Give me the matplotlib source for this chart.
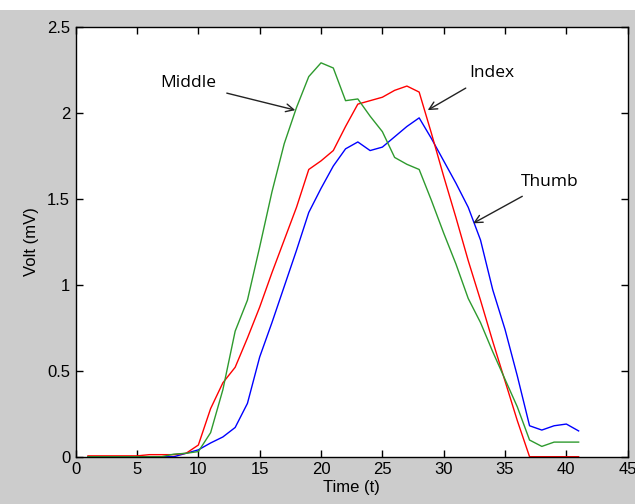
import matplotlib.pyplot as plt
from matplotlib.patches import Rectangle
import numpy as np

# time samples 1..41
t = list(range(1, 42))

thumb = [0.0, 0.0, 0.0, 0.0, 0.0, 0.0, 0.0, 0.0, 0.02, 0.04,
         0.08, 0.115, 0.17, 0.31, 0.58, 0.78, 0.99, 1.20, 1.42, 1.56,
         1.69, 1.79, 1.83, 1.78, 1.80, 1.86, 1.92, 1.97, 1.85, 1.72,
         1.59, 1.45, 1.26, 0.97, 0.74, 0.47, 0.18, 0.155, 0.18, 0.19,
         0.15]

index = [0.005, 0.005, 0.005, 0.005, 0.005, 0.012, 0.012, 0.012, 0.02, 0.068,
         0.28, 0.43, 0.52, 0.69, 0.87, 1.07, 1.26, 1.45, 1.67, 1.72,
         1.78, 1.92, 2.05, 2.07, 2.09, 2.13, 2.155, 2.12, 1.88, 1.63,
         1.39, 1.14, 0.91, 0.67, 0.44, 0.21, 0.0, 0.0, 0.0, 0.0,
         0.0]

middle = [0.0, 0.0, 0.0, 0.0, 0.0, 0.0, 0.0, 0.015, 0.02, 0.03,
          0.14, 0.39, 0.73, 0.91, 1.22, 1.54, 1.82, 2.03, 2.21, 2.29,
          2.26, 2.07, 2.08, 1.98, 1.89, 1.74, 1.70, 1.67, 1.49, 1.30,
          1.12, 0.92, 0.78, 0.61, 0.45, 0.29, 0.097, 0.06, 0.085, 0.085,
          0.085]

# annotation: label, text pos, arrow head
notes = [("Middle", (9.15, 2.17), (17.9, 2.015)),
         ("Index", (33.9, 2.23), (28.7, 2.015)),
         ("Thumb", (38.6, 1.60), (32.4, 1.357))]

xticks = [0, 5, 10, 15, 20, 25, 30, 35, 40, 45]
yticks = [0, 0.5, 1, 1.5, 2, 2.5]

plt.rcParams['font.family'] = ['Liberation Sans', 'DejaVu Sans']

fig = plt.figure(figsize=(6.35, 5.04), dpi=100, facecolor='#cccccc')
fig.patches.append(Rectangle((0, 1 - 10 / 504), 1, 10 / 504, transform=fig.transFigure,
                             facecolor='white', edgecolor='none'))
ax = fig.add_axes([0.1192, 0.0938, 0.8693, 0.8532])

ax.plot(t, thumb, color='#0000ff', lw=1.0)
ax.plot(t, index, color='#ff0000', lw=1.0)
ax.plot(t, middle, color='#2e9a2e', lw=1.0)

for label, txt, head in notes:
    ax.annotate(label, xy=head, xytext=txt, ha='center', va='center',
                fontsize=12.5, family='Open Sans',
                arrowprops=dict(arrowstyle='->', color='#222222', lw=1.0,
                                shrinkA=6, shrinkB=0, mutation_scale=14))

ax.set_xlim(0, 45)
ax.set_ylim(0, 2.5)
ax.set_xticks(xticks)
ax.set_yticks(yticks)
ax.set_xticklabels([str(v) for v in xticks])
ax.set_yticklabels(['0', '0.5', '1', '1.5', '2', '2.5'])
ax.tick_params(direction='in', top=True, right=True, length=5, width=1,
               labelsize=12, colors='black', pad=4)
for s in ax.spines.values():
    s.set_linewidth(1.0)
ax.set_xlabel('Time (t)', fontsize=12, labelpad=2)
ax.set_ylabel('Volt (mV)', fontsize=12, labelpad=6)

fig.savefig('out.png', dpi=100, facecolor=fig.get_facecolor())
